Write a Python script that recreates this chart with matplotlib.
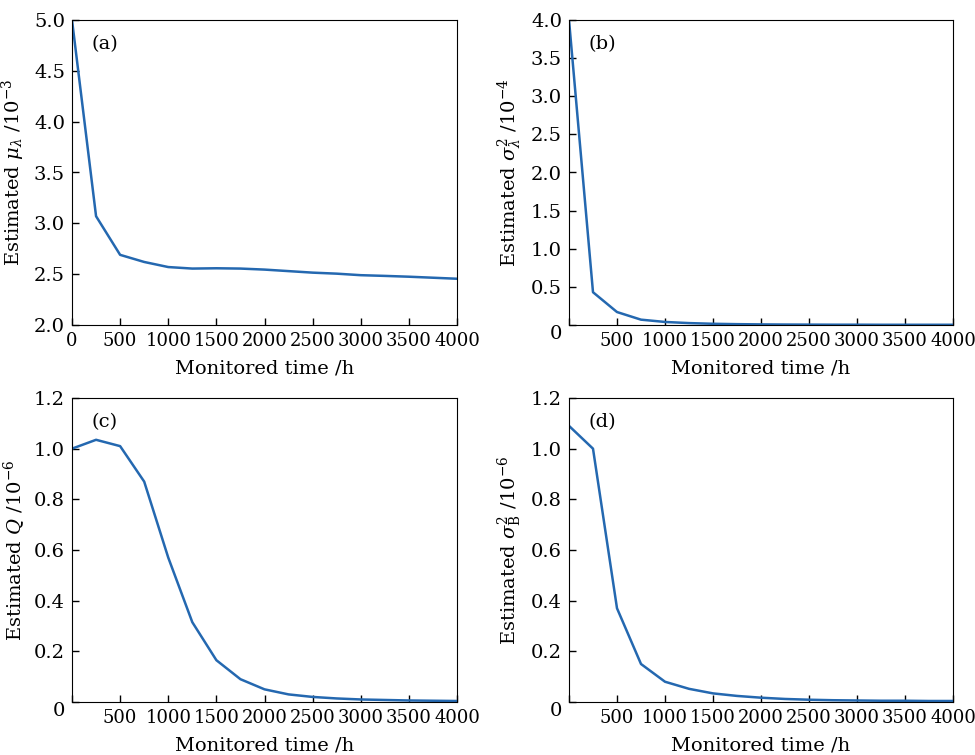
import numpy as np
import matplotlib
matplotlib.use('Agg')
import matplotlib.pyplot as plt

plt.rcParams['font.family'] = ['DejaVu Serif']
plt.rcParams['mathtext.fontset'] = 'dejavuserif'

# monitored time (h)
hours = [0, 250, 500, 750, 1000, 1250, 1500, 1750, 2000, 2250, 2500, 2750, 3000, 3250, 3500, 3750, 4000]

# (a) estimated mu_lambda /1e-3
mu_lam = [5.0, 3.07, 2.69, 2.62, 2.57, 2.555, 2.558, 2.555, 2.545, 2.53, 2.515, 2.505, 2.49, 2.483, 2.475, 2.465, 2.455]
# (b) estimated sigma_lambda^2 /1e-4
sig_lam = [4.0, 0.43, 0.17, 0.07, 0.04, 0.025, 0.016, 0.011, 0.008, 0.006, 0.005, 0.004, 0.004, 0.003, 0.003, 0.003, 0.003]
# (c) estimated Q /1e-6
q_est = [1.0, 1.035, 1.01, 0.87, 0.57, 0.315, 0.165, 0.09, 0.05, 0.03, 0.02, 0.014, 0.01, 0.008, 0.006, 0.005, 0.004]
# (d) estimated sigma_B^2 /1e-6
sig_b = [1.09, 1.0, 0.37, 0.15, 0.08, 0.052, 0.034, 0.024, 0.017, 0.012, 0.009, 0.007, 0.006, 0.005, 0.005, 0.004, 0.004]

line_col = '#2468b0'

fig = plt.figure(figsize=(9.75, 7.55), dpi=100)
W, H = 975, 755

def make_ax(l, t, r, b):
    return fig.add_axes([l / W, 1 - b / H, (r - l) / W, (b - t) / H])

axes = [make_ax(72, 20, 457, 325), make_ax(569, 20, 953, 325),
        make_ax(72, 398, 457, 702), make_ax(569, 398, 953, 702)]

series = [mu_lam, sig_lam, q_est, sig_b]
ylabels = [r'Estimated $\mu_{\lambda}$ /10$^{-3}$',
           r'Estimated $\sigma_{\lambda}^{2}$ /10$^{-4}$',
           r'Estimated $Q$ /10$^{-6}$',
           r'Estimated $\sigma_{\mathrm{B}}^{2}$ /10$^{-6}$']
tags = ['(a)', '(b)', '(c)', '(d)']
ylims = [(2.0, 5.0), (0, 4.0), (0, 1.2), (0, 1.2)]
yticks = [np.arange(2.0, 5.01, 0.5), np.arange(0, 4.01, 0.5),
          np.arange(0, 1.21, 0.2), np.arange(0, 1.21, 0.2)]

for i, ax in enumerate(axes):
    ax.plot(hours, series[i], color=line_col, lw=1.8)
    ax.set_xlim(0, 4000)
    ax.set_ylim(*ylims[i])
    ax.set_yticks(yticks[i])
    ax.set_xticks(np.arange(0, 4001, 500))
    if i == 0:
        ax.set_yticklabels(['%.1f' % v for v in yticks[i]])
    else:
        ax.set_xticklabels([''] + [str(v) for v in range(500, 4001, 500)])
        labs = ['%.1f' % v for v in yticks[i]]
        labs[0] = '0'
        ax.set_yticklabels(labs)
        ax.get_yticklabels()[0].set_va('top')
    ax.tick_params(direction='in', length=5, width=1, labelsize=13, pad=5,
                   top=False, right=False)
    ax.tick_params(axis='y', labelsize=14)
    ax.set_xlabel('Monitored time /h', fontsize=14, labelpad=7)
    ax.set_ylabel(ylabels[i], fontsize=14, labelpad=5)
    ax.text(0.05, 0.92, tags[i], transform=ax.transAxes, fontsize=14, va='center')

fig.savefig('out.png', dpi=100)
